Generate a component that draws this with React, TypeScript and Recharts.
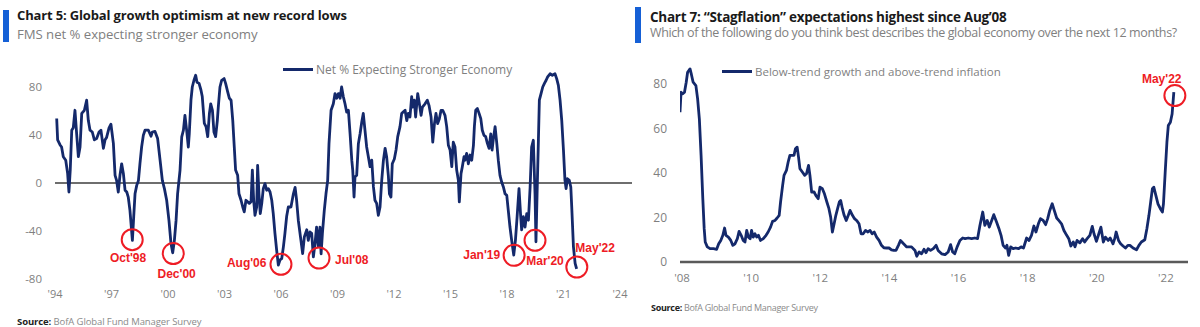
import React from 'react';
import { LineChart, Line, XAxis, YAxis, ReferenceLine, ReferenceDot, Legend } from 'recharts';

// ---------- Chart 5: FMS net % expecting stronger economy ----------
const optimismDates = [
  1994.09, 1994.14, 1994.27, 1994.35, 1994.44, 1994.57, 1994.67, 1994.74, 1994.81, 1994.89, 1994.97,
  1995.06, 1995.15, 1995.24, 1995.33, 1995.42, 1995.56, 1995.68, 1995.77, 1995.86, 1995.98,
  1996.09, 1996.21, 1996.34, 1996.44, 1996.57, 1996.66, 1996.74, 1996.87, 1996.97,
  1997.10, 1997.19, 1997.27, 1997.36, 1997.45, 1997.54, 1997.63, 1997.72, 1997.81, 1997.89, 1997.98,
  1998.11, 1998.18, 1998.25, 1998.34, 1998.43, 1998.51, 1998.60, 1998.69, 1998.78, 1998.96,
  1999.10, 1999.17, 1999.31, 1999.45, 1999.58, 1999.70, 1999.81, 1999.93,
  2000.05, 2000.16, 2000.25, 2000.34, 2000.43, 2000.51, 2000.64, 2000.73, 2000.82, 2000.90, 2000.99,
  2001.08, 2001.13, 2001.22, 2001.29, 2001.38, 2001.47, 2001.54, 2001.65, 2001.75, 2001.82, 2001.93,
  2002.02, 2002.11, 2002.20, 2002.27, 2002.36, 2002.44, 2002.53, 2002.62, 2002.67, 2002.76, 2002.85, 2002.98,
  2003.06, 2003.17, 2003.26, 2003.35, 2003.44, 2003.52, 2003.59, 2003.70, 2003.77, 2003.88, 2003.97,
  2004.05, 2004.14, 2004.23, 2004.32, 2004.41, 2004.48, 2004.55, 2004.62, 2004.71, 2004.76, 2004.83, 2004.90, 2004.98,
  2005.06, 2005.15, 2005.24, 2005.33, 2005.42, 2005.51, 2005.59, 2005.68, 2005.77, 2005.86, 2005.95,
  2006.04, 2006.13, 2006.21, 2006.30, 2006.39, 2006.53, 2006.66, 2006.75, 2006.83, 2006.92,
  2007.06, 2007.15, 2007.24, 2007.37, 2007.45, 2007.54, 2007.63, 2007.72, 2007.81, 2007.89, 2007.98,
  2008.07, 2008.13, 2008.20, 2008.30, 2008.39, 2008.48, 2008.55, 2008.66, 2008.78, 2008.87, 2008.96,
  2009.05, 2009.14, 2009.22, 2009.31, 2009.40, 2009.49, 2009.58, 2009.67, 2009.76, 2009.81, 2009.88, 2009.93,
  2010.02, 2010.11, 2010.20, 2010.29, 2010.37, 2010.46, 2010.55, 2010.64, 2010.73, 2010.82, 2010.91, 2010.99,
  2011.08, 2011.17, 2011.26, 2011.35, 2011.44, 2011.53, 2011.61, 2011.70, 2011.76, 2011.84, 2011.91,
  2012.02, 2012.11, 2012.20, 2012.32, 2012.41, 2012.50, 2012.59, 2012.68, 2012.76, 2012.85, 2012.94, 2012.99,
  2013.08, 2013.15, 2013.26, 2013.35, 2013.44, 2013.51, 2013.65, 2013.77, 2013.86, 2013.97,
  2014.06, 2014.15, 2014.23, 2014.32, 2014.41, 2014.50, 2014.59, 2014.71, 2014.80, 2014.89, 2014.98,
  2015.07, 2015.15, 2015.24, 2015.33, 2015.42, 2015.47, 2015.56, 2015.63, 2015.72, 2015.77, 2015.86, 2015.95,
  2016.04, 2016.13, 2016.22, 2016.27, 2016.34, 2016.43, 2016.52, 2016.61, 2016.69, 2016.78, 2016.87, 2016.96,
  2017.05, 2017.14, 2017.21, 2017.28, 2017.37, 2017.46, 2017.54, 2017.63, 2017.72, 2017.81, 2017.90, 2017.99,
  2018.07, 2018.16, 2018.25, 2018.36, 2018.45, 2018.54, 2018.64, 2018.73, 2018.78, 2018.87, 2018.96,
  2019.05, 2019.14, 2019.23, 2019.31, 2019.40, 2019.49, 2019.54, 2019.60, 2019.67, 2019.72, 2019.81, 2019.90, 2019.99,
  2020.08, 2020.16, 2020.29, 2020.41, 2020.55, 2020.64, 2020.73, 2020.82, 2020.91,
  2021.00, 2021.08, 2021.14, 2021.21, 2021.31, 2021.39, 2021.44, 2021.53, 2021.62, 2021.70,
];
const optimismValues = [
  53.7, 35.9, 31.7, 30, 21.9, 19, 8, -7.5, 10.8, 44, 46,
  60.6, 41, 21.9, 30, 58, 60.6, 69, 52, 44, 42.5,
  36, 37, 42.5, 44, 28.9, 36, 38, 46, 49,
  33, 6.4, 2.2, -7.5, 6.4, 16, 8, -6, -7.5, -11.7, -22.8,
  -47.8, -28, -9, -2, 2, 16, 30, 39.7, 44, 44,
  39, 42.5, 43, 37, 19, 2.2, -4.7, -14.4,
  -31, -50.5, -58.2, -47.8, -31, -9, 10.8, 38.5, 44, 56.4, 44,
  30, 41, 69, 80, 85.6, 89.8, 84, 83, 77.5, 72, 49.7,
  47, 38.6, 58, 66, 60.6, 42.5, 38.6, 52, 63, 80, 85.6, 87,
  83, 76, 70.6, 69, 52, 30, 10.8, 6.4, -9, -14.4, -20,
  -24, -14.4, -15.7, -17, -15.7, 10.8, -14.4, -26.9, -20, 14.7, -9, -25.5, -17,
  -4.7, -0.5, -6, -4.7, -7.5, -14.4, -25.5, -42, -56, -68.5, -64,
  -63, -53, -42, -28, -20, -20, -9, -3.6, -14.4, -31,
  -47.8, -58.9, -45, -39, -47.8, -40.8, -42, -61.6, -50, -36.7, -53,
  -36.7, -59, -42, -22.8, -9, 2.2, 32.8, 60.6, 66, 74.5, 70.6,
  74.5, 70.6, 80, 72, 66, 59, 60.6, 41, 19, 10.8, -11.7, 5,
  6.4, 32.8, 41, 50.8, 58, 44, 30, 21.9, 13.6, 19, -3.3, -14.4,
  -17, -26.9, -20, 2.2, 19, 28.9, 21.9, 6.4, -9, -11.7, 16,
  20, 27.5, 38.6, 47, 58, 59.4, 60.6, 52, 58, 55, 72, 63.3,
  69, 55, 74.5, 66, 56.4, 63.3, 66, 69, 64.7, 55,
  34, 49.5, 58, 49.5, 53.6, 60.6, 60.6, 56.4, 47, 31.4, 27.5,
  13.6, 34, 30, 10.8, 2.2, -15.7, 7.8, 13.6, 21.9, 19, 24.7, 16,
  23.3, 19, 31.4, 47, 60.6, 62, 58, 53.6, 44, 39.7, 38.6, 33,
  28.9, 41, 27.5, 37, 47, 33, 19, 6.4, 0.8, -3.3, -9, -10.3,
  -22.8, -36.7, -47.8, -60, -47.8, -28, -4.7, -28, -39, -28, -36.7,
  -25.5, -31, -3.3, 30, 35.6, -9, -49, -9, 35.6, 69, 74.5, 80, 83,
  85.6, 88.4, 91, 89.8, 91, 87, 81.4, 69, 52,
  27.5, 2.2, -4.7, 3.6, 2.2, -3.3, -20, -53, -67, -71.5,
];
const optimismXTicks = [1994, 1997, 2000, 2003, 2006, 2009, 2012, 2015, 2018, 2021, 2024];
const optimismXLabels = ["'94", "'97", "'00", "'03", "'06", "'09", "'12", "'15", "'18", "'21", "'24"];
const optimismYTicks = [-80, -40, 0, 40, 80];
const optimismNotes = [
  { text: "Oct'98", cx: 1998.10, cy: -47.2, lx: 1997.88, ly: -61.9 },
  { text: "Dec'00", cx: 2000.28, cy: -58.8, lx: 2000.46, ly: -75.5 },
  { text: "Aug'06", cx: 2006.00, cy: -67.8, lx: 2004.18, ly: -66.3 },
  { text: "Jul'08", cx: 2008.02, cy: -62.5, lx: 2009.76, ly: -63.8 },
  { text: "Jan'19", cx: 2018.38, cy: -60.3, lx: 2016.66, ly: -59.7 },
  { text: "Mar'20", cx: 2019.49, cy: -47.8, lx: 2020.02, ly: -65.0 },
  { text: "May'22", cx: 2021.71, cy: -70.0, lx: 2022.68, ly: -54.2 },
];

// ---------- Chart 7: Stagflation expectations ----------
const stagDates = [
  2007.94, 2007.97, 2008.02, 2008.07, 2008.12, 2008.16, 2008.23, 2008.27, 2008.32, 2008.40, 2008.45, 2008.50,
  2008.55, 2008.60, 2008.64, 2008.67, 2008.73, 2008.81, 2008.91,
  2009.00, 2009.06, 2009.12, 2009.18, 2009.23, 2009.27, 2009.34, 2009.41, 2009.47, 2009.53, 2009.60, 2009.65,
  2009.71, 2009.77, 2009.82, 2009.87, 2009.92, 2009.97,
  2010.01, 2010.06, 2010.11, 2010.16, 2010.21, 2010.27, 2010.35, 2010.43, 2010.49, 2010.56, 2010.62, 2010.69,
  2010.75, 2010.81, 2010.85, 2010.91, 2010.95,
  2011.02, 2011.07, 2011.12, 2011.19, 2011.24, 2011.28, 2011.33, 2011.37, 2011.41, 2011.48, 2011.55, 2011.60,
  2011.66, 2011.70, 2011.75, 2011.82, 2011.87, 2011.94, 2011.99,
  2012.06, 2012.12, 2012.19, 2012.25, 2012.30, 2012.35, 2012.40, 2012.45, 2012.50, 2012.55, 2012.59, 2012.64,
  2012.69, 2012.75, 2012.81, 2012.86, 2012.93, 2012.99,
  2013.05, 2013.12, 2013.18, 2013.24, 2013.31, 2013.37, 2013.44, 2013.50, 2013.56, 2013.63, 2013.70, 2013.77,
  2013.84, 2013.92, 2013.99,
  2014.06, 2014.13, 2014.19, 2014.26, 2014.32, 2014.41, 2014.50, 2014.64, 2014.74, 2014.79, 2014.86, 2014.93,
  2015.00, 2015.06, 2015.12, 2015.19, 2015.27, 2015.35, 2015.41, 2015.51, 2015.61, 2015.70, 2015.77, 2015.83,
  2015.89, 2015.96,
  2016.04, 2016.12, 2016.19, 2016.28, 2016.38, 2016.47, 2016.55, 2016.62, 2016.70, 2016.76, 2016.83, 2016.89, 2016.96,
  2017.02, 2017.10, 2017.17, 2017.23, 2017.29, 2017.36, 2017.40, 2017.45, 2017.51, 2017.58, 2017.65, 2017.74,
  2017.81, 2017.88, 2017.97,
  2018.04, 2018.11, 2018.18, 2018.24, 2018.31, 2018.37, 2018.45, 2018.52, 2018.58, 2018.64, 2018.71, 2018.77,
  2018.84, 2018.90, 2018.98,
  2019.05, 2019.13, 2019.19, 2019.25, 2019.32, 2019.37, 2019.43, 2019.51, 2019.59, 2019.65, 2019.72, 2019.80,
  2019.87, 2019.92, 2019.99,
  2020.06, 2020.12, 2020.19, 2020.25, 2020.33, 2020.39, 2020.47, 2020.52, 2020.56, 2020.63, 2020.69, 2020.76,
  2020.83, 2020.90, 2020.96,
  2021.05, 2021.15, 2021.22, 2021.29, 2021.39, 2021.45, 2021.51, 2021.56, 2021.61, 2021.65, 2021.71, 2021.77,
  2021.84, 2021.90, 2021.93, 2021.98,
  2022.03, 2022.07, 2022.13, 2022.18, 2022.23,
];
const stagValues = [
  67.4, 76.4, 75.7, 76.4, 80.9, 85.4, 86.9, 84.4, 80.9, 79.4, 73.4, 64.4,
  48, 28.5, 15, 9, 6.8, 6, 6,
  5.7, 8.2, 9.7, 12, 15.3, 12, 11.2, 9.7, 7.5, 8.2, 10.5, 13.8,
  12, 9.7, 9, 14.2, 11.2, 10.5,
  14.2, 11.2, 12.7, 11.2, 12, 9.7, 10.5, 12, 13.5, 15.7, 18.3, 18.7,
  19.8, 21, 27, 34.5, 39,
  41.2, 45, 48, 48, 48, 51, 51.7, 47.2, 42, 40.5, 39, 39.7,
  43.5, 39, 31.5, 31.5, 30, 28.5, 33.7,
  33, 30.7, 27, 24, 20.2, 13.5, 17.2, 21, 24, 27, 27.7, 24,
  21, 18.7, 21, 23.2, 21, 19.5,
  18.7, 17.2, 12.7, 12.7, 14.2, 13.5, 14.2, 12.7, 13.5, 11.2, 9.7, 7.5,
  6.4, 6.3, 6.3,
  5.5, 5.2, 5.2, 7.5, 9.7, 8.2, 6.8, 6.8, 5.2, 2.6, 4.5, 3.7,
  5.7, 4.2, 6, 5.2, 6, 7.5, 5.2, 3.7, 3.3, 4.5, 7.8, 4.5,
  3.7, 6.8,
  9.7, 10.8, 10.5, 10.8, 10.5, 10.8, 10.5, 16.5, 22.5, 16.5, 18.7, 15.7, 18.7,
  21.3, 18, 15, 12, 7.5, 6.3, 7.5, 3, 6.8, 6, 6.3, 6,
  6.8, 6.3, 10.8,
  9.7, 12, 16.2, 13.5, 17.2, 19.5, 18.7, 16.8, 19.5, 23.2, 26.2, 23.2,
  19.8, 18.7, 17.2,
  14.2, 12, 10.5, 7.2, 9, 6.8, 9.7, 8.6, 10.5, 9, 10.5, 12,
  16, 12.7, 9.3,
  12.7, 15.7, 9, 11.2, 9.7, 10.8, 8.2, 10.5, 13.5, 9.7, 8.2, 7.2,
  6.3, 7.5, 7.5,
  6.3, 5.5, 7.5, 9, 10, 15, 21, 27, 33, 33.7, 30, 26.2,
  24, 22.5, 26.2, 40.4,
  53.9, 61.4, 62.9, 66.6, 76.4,
];
const stagXTicks = [2008, 2010, 2012, 2014, 2016, 2018, 2020, 2022];
const stagXLabels = ["'08", "'10", "'12", "'14", "'16", "'18", "'20", "'22"];
const stagYTicks = [0, 20, 40, 60, 80];
const stagNotes = [{ text: "May'22", cx: 2022.26, cy: 74.9, lx: 2021.88, ly: 82.4 }];

// ---------- styling ----------
const NAVY = '#14296b';
const RED = '#ee1c25';
const GREY_TEXT = '#7f7f7f';
const BLUE_BAR = '#1560d6';
const FONT = '"Open Sans", "Liberation Sans", sans-serif';

const optimismData = optimismDates.map((t, i) => ({ t, v: optimismValues[i] }));
const stagData = stagDates.map((t, i) => ({ t, v: stagValues[i] }));

const legendContent = (fontSize: number) => (props: any) => {
  const item = props.payload && props.payload[0];
  return (
    <div style={{ display: 'flex', alignItems: 'center', fontFamily: FONT, fontSize, color: GREY_TEXT, whiteSpace: 'nowrap' }}>
      <span style={{ display: 'inline-block', width: 30, height: 3, background: NAVY, marginRight: 3 }} />
      <span>{item ? item.value : ''}</span>
    </div>
  );
};

const renderNotes = (notes: typeof optimismNotes) => {
  const out: React.ReactNode[] = [];
  notes.forEach((n, i) => {
    out.push(
      <ReferenceDot key={'c' + i} x={n.cx} y={n.cy} r={10.5} fill="none" stroke={RED} strokeWidth={2} ifOverflow="visible" />
    );
    out.push(
      <ReferenceDot
        key={'l' + i}
        x={n.lx}
        y={n.ly}
        r={0}
        fill="none"
        stroke="none"
        ifOverflow="visible"
        label={{ value: n.text, position: 'center', fill: RED, fontSize: 12, fontWeight: 700, fontFamily: '"Liberation Sans", Arial, sans-serif' }}
      />
    );
  });
  return out;
};

const Title = ({ x, barX, barTop, barH, title, sub, titleSize, subSize, titleTop, subTop, titleSpacing, subSpacing }: any) => (
  <>
    <div style={{ position: 'absolute', left: barX, top: barTop, width: 6, height: barH, background: BLUE_BAR }} />
    <div style={{ position: 'absolute', left: x, top: titleTop, fontFamily: FONT, fontWeight: 700, fontSize: titleSize, color: '#1a1a1a', letterSpacing: titleSpacing, whiteSpace: 'nowrap', lineHeight: 1 }}>{title}</div>
    <div style={{ position: 'absolute', left: x, top: subTop, fontFamily: FONT, fontSize: subSize, color: '#808080', letterSpacing: subSpacing, whiteSpace: 'nowrap', lineHeight: 1 }}>{sub}</div>
  </>
);

const Source = ({ x, y, size, spacing }: any) => (
  <div style={{ position: 'absolute', left: x, top: y, fontFamily: FONT, fontSize: size, color: '#8a8a8a', whiteSpace: 'nowrap', lineHeight: 1, letterSpacing: spacing }}>
    <span style={{ fontWeight: 700, color: '#222' }}>Source:</span> BofA Global Fund Manager Survey
  </div>
);

export default function App() {
  return (
    <div style={{ position: 'absolute', left: 0, top: 0, width: 1200, height: 327, background: '#fff', overflow: 'hidden' }}>
      <Title x={17} barX={3} barTop={10} barH={32} titleSize={13} subSize={13.2} titleTop={9} subTop={28}
        titleSpacing={-0.15} subSpacing={-0.05}
        title="Chart 5: Global growth optimism at new record lows" sub="FMS net % expecting stronger economy" />
      <Title x={650} barX={635} barTop={7} barH={36} titleSize={13.5} subSize={12.5} titleTop={11} subTop={27}
        titleSpacing={-0.28} subSpacing={-0.37}
        title={'Chart 7: \u201cStagflation\u201d expectations highest since Aug\u201908'}
        sub="Which of the following do you think best describes the global economy over the next 12 months?" />

      <div style={{ position: 'absolute', left: 0, top: 0 }}>
        <LineChart width={640} height={309} data={optimismData} margin={{ top: 63, right: 8, bottom: 0, left: 0 }}>
          <XAxis dataKey="t" type="number" domain={[1994, 2024.64]} ticks={optimismXTicks} interval={0}
            tickFormatter={(v: number) => optimismXLabels[optimismXTicks.indexOf(v)] ?? ''}
            axisLine={false} tickLine={false} tickMargin={5} height={30}
            tick={{ fill: GREY_TEXT, fontSize: 11, fontFamily: FONT }} allowDataOverflow />
          <YAxis type="number" domain={[-80, 100]} ticks={optimismYTicks} interval={0} width={55}
            axisLine={false} tickLine={false} tickMargin={7}
            tick={{ fill: GREY_TEXT, fontSize: 11.5, fontFamily: FONT }} allowDataOverflow />
          <ReferenceLine y={0} stroke="#6e6e6e" strokeWidth={2} />
          <Line type="linear" dataKey="v" name="Net % Expecting Stronger Economy" stroke={NAVY} strokeWidth={2.8}
            dot={false} isAnimationActive={false} strokeLinejoin="round" />
          <Legend layout="horizontal" verticalAlign="middle" align="center" content={legendContent(12)}
            wrapperStyle={{ top: 61, left: 283, width: 'auto' }} />
          {renderNotes(optimismNotes)}
        </LineChart>
      </div>

      <div style={{ position: 'absolute', left: 620, top: 0 }}>
        <LineChart width={580} height={292} data={stagData} margin={{ top: 62, right: 12, bottom: 0, left: 0 }}>
          <XAxis dataKey="t" type="number" domain={[2007.94, 2022.64]} ticks={stagXTicks} interval={0}
            tickFormatter={(v: number) => stagXLabels[stagXTicks.indexOf(v)] ?? ''}
            axisLine={{ stroke: '#5a5a5a', strokeWidth: 2.5 }} tickLine={false} tickMargin={6} height={30}
            tick={{ fill: GREY_TEXT, fontSize: 11.5, fontFamily: FONT }} allowDataOverflow />
          <YAxis type="number" domain={[0, 90]} ticks={stagYTicks} interval={0} width={60}
            axisLine={false} tickLine={false} tickMargin={7}
            tick={{ fill: GREY_TEXT, fontSize: 12, fontFamily: FONT }} allowDataOverflow />
          <Line type="linear" dataKey="v" name="Below-trend growth and above-trend inflation" stroke={NAVY} strokeWidth={2.8}
            dot={false} isAnimationActive={false} strokeLinejoin="round" />
          <Legend layout="horizontal" verticalAlign="middle" align="center" content={legendContent(11.5)}
            wrapperStyle={{ top: 64, left: 102, width: 'auto' }} />
          {renderNotes(stagNotes)}
        </LineChart>
      </div>

      <Source x={17} y={317} size={9.5} spacing={-0.1} />
      <Source x={651} y={303} size={9} spacing={-0.3} />
    </div>
  );
}
